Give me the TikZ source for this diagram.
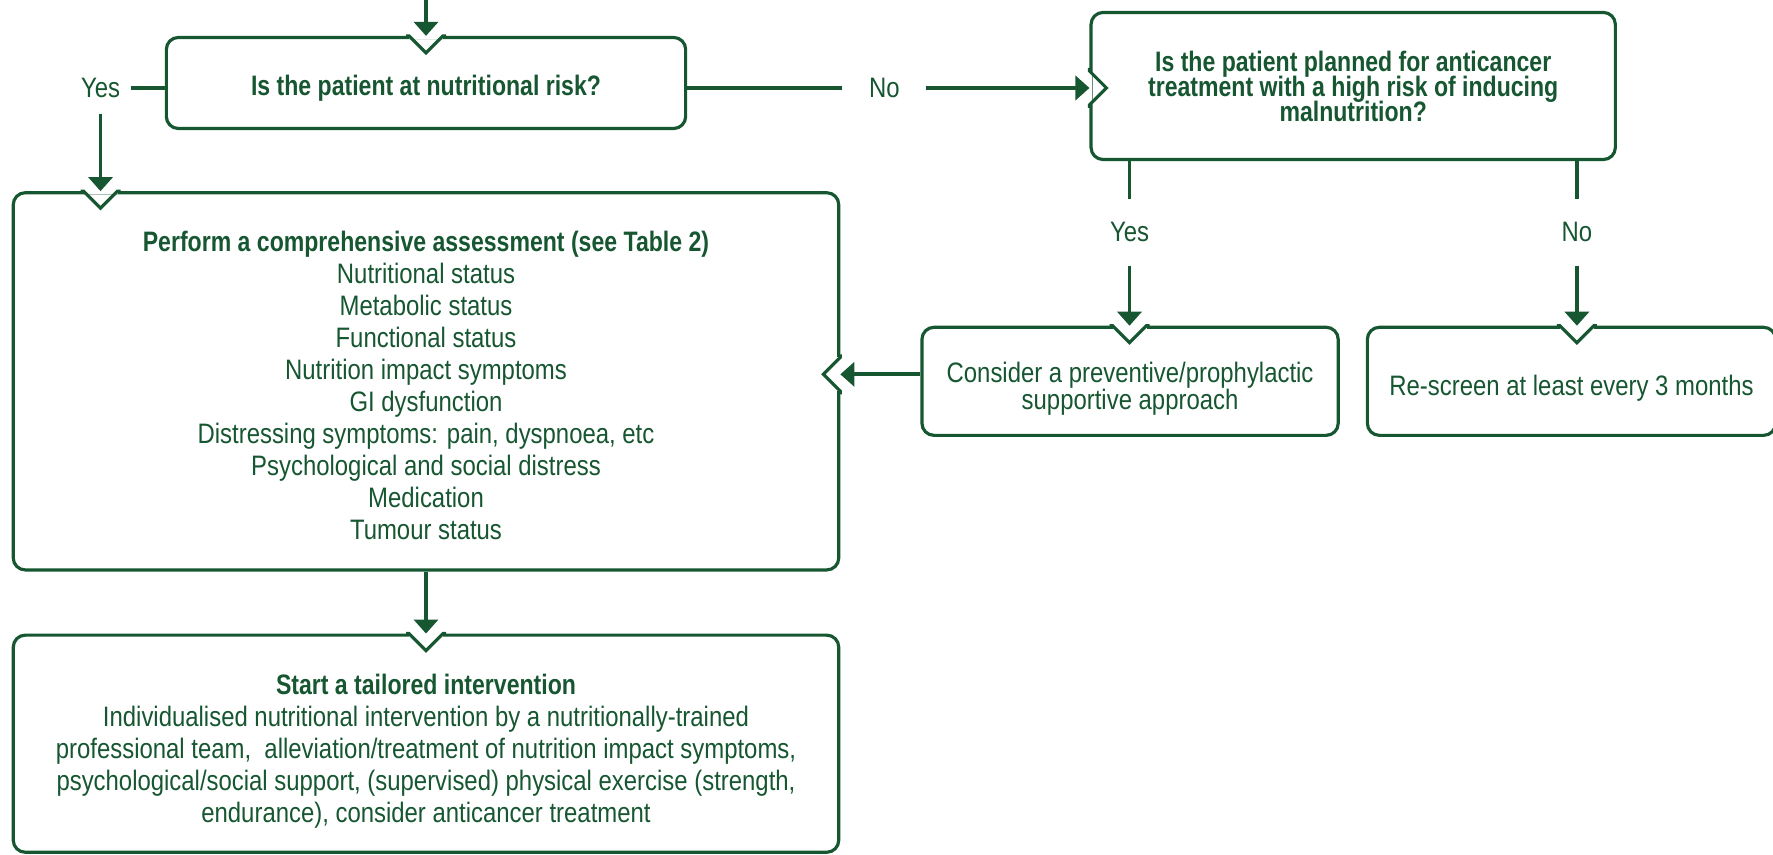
\documentclass[tikz,border=0pt]{standalone}
\usepackage{fontspec}
\setmainfont{Liberation Sans}[FakeStretch=0.85, BoldFeatures={FakeStretch=0.82}]
\usepackage{tikz}
\usetikzlibrary{arrows.meta, positioning}
\definecolor{esmogreen}{RGB}{22,86,48}

% tight leading for some boxes
\newcommand{\tightlines}[1]{\fontsize{8}{#1}\selectfont\setlength{\lineskiplimit}{-5pt}}
% extra room above the first line, below a notch
\newcommand{\notchpad}[1][9.8pt]{\rule{0pt}{#1}}

% V-shaped cut in a box edge, pointing into the box
\newcommand{\edgenotch}[2]{%
  \begin{scope}[shift={(#1)}, rotate=#2]
    \fill[white] (-3,-17) rectangle (3,17);
    \draw[boxline] (0,20) -- (0,17) -- (17,0) -- (0,-17) -- (0,-20);
  \end{scope}}

\begin{document}
\begin{tikzpicture}[
    x=0.01cm, y=0.01cm,
    every node/.style={font=\fontsize{8}{9.1}\selectfont, text=esmogreen},
    boxline/.style={draw=esmogreen, line width=0.9pt, line join=miter},
    box/.style={rectangle, boxline, rounded corners=0.12cm, align=center, inner sep=0pt},
    qbox/.style={box, font=\tightlines{7.1}\bfseries},
    lbl/.style={inner xsep=0.1cm, inner ysep=0.15cm},
    link/.style={draw=esmogreen, line width=1.1pt},
    arr/.style={link, -{Triangle[width=0.24cm, length=0.14cm]}}
]
\useasboundingbox (0,0) rectangle (1773,855);
\coordinate (topedge) at (0,855);

% Row 1: screening questions
\node[qbox, minimum width=5.19cm, minimum height=0.91cm] (risk) at (426,772) {\notchpad[9pt]Is the patient at nutritional risk?};
\node[qbox, minimum width=5.24cm, minimum height=1.47cm, right=4.02cm of risk, yshift=-0.03cm] (planned)
  {Is the patient planned for anticancer\\treatment with a high risk of inducing\\malnutrition?};
\node[lbl, left=0.34cm of risk, yshift=-0.05cm] (yes1) {Yes};
\node[lbl, inner xsep=0.26cm, right=1.55cm of risk, yshift=-0.05cm] (no1) {No};

% Row 2: assessment and preventive boxes
\node[box, minimum width=8.25cm, minimum height=3.77cm, below=0.61cm of risk] (assess)
  {\notchpad[8pt]\textbf{Perform a comprehensive assessment (see Table 2)}\\
   Nutritional status\\Metabolic status\\Functional status\\Nutrition impact symptoms\\
   GI dysfunction\\Distressing symptoms: pain, dyspnoea, etc\\
   Psychological and social distress\\Medication\\Tumour status};
\node[box, minimum width=4.16cm, minimum height=1.08cm, right=0.80cm of assess,
      font=\tightlines{7.7}] (prevent)
  {\notchpad Consider a preventive/prophylactic\\supportive approach};
\node[box, minimum width=4.08cm, minimum height=1.08cm, right=0.26cm of prevent] (rescreen)
  {\notchpad Re-screen at least every 3 months};

% Row 3: intervention
\node[box, minimum width=8.25cm, minimum height=2.17cm, below=0.62cm of assess] (tailor)
  {\notchpad\textbf{Start a tailored intervention}\\
   Individualised nutritional intervention by a nutritionally-trained\\
   professional team,\ \ alleviation/treatment of nutrition impact symptoms,\\
   psychological/social support, (supervised) physical exercise (strength,\\
   endurance), consider anticancer treatment};

% Yes/No branches of the second question
\coordinate (yesfork) at ([xshift=0.4cm]planned.south west);
\coordinate (nofork) at ([xshift=-0.4cm]planned.south east);
\node[lbl, inner ysep=0.23cm, below=0.375cm of yesfork] (yes2) {Yes};
\node[lbl, inner ysep=0.23cm, below=0.375cm of nofork] (no2) {No};
\coordinate (backin) at ([yshift=0.07cm]assess.east);

% Notches
\edgenotch{risk.north}{-90}
\edgenotch{yes1 |- assess.north}{-90}
\edgenotch{no1 -| planned.west}{0}
\edgenotch{backin}{180}
\edgenotch{yes2 |- prevent.north}{-90}
\edgenotch{no2 |- rescreen.north}{-90}
\edgenotch{tailor.north}{-90}

% Arrows
\draw[arr] (risk.north |- topedge) -- (risk.north);
\draw[link] (yes1.east) -- (yes1.east -| risk.west);
\draw[arr] (yes1.south) -- (yes1 |- assess.north);
\draw[link] (no1.west -| risk.east) -- (no1.west);
\draw[arr] (no1.east) -- (no1.east -| planned.west);
\draw[link] (yesfork) -- (yes2.north);
\draw[link] (nofork) -- (no2.north);
\draw[arr] (yes2.south) -- (yes2 |- prevent.north);
\draw[arr] (no2.south) -- (no2 |- rescreen.north);
\draw[arr] (backin -| prevent.west) -- (backin);
\draw[arr] (assess.south) -- (tailor.north);

\end{tikzpicture}
\end{document}
